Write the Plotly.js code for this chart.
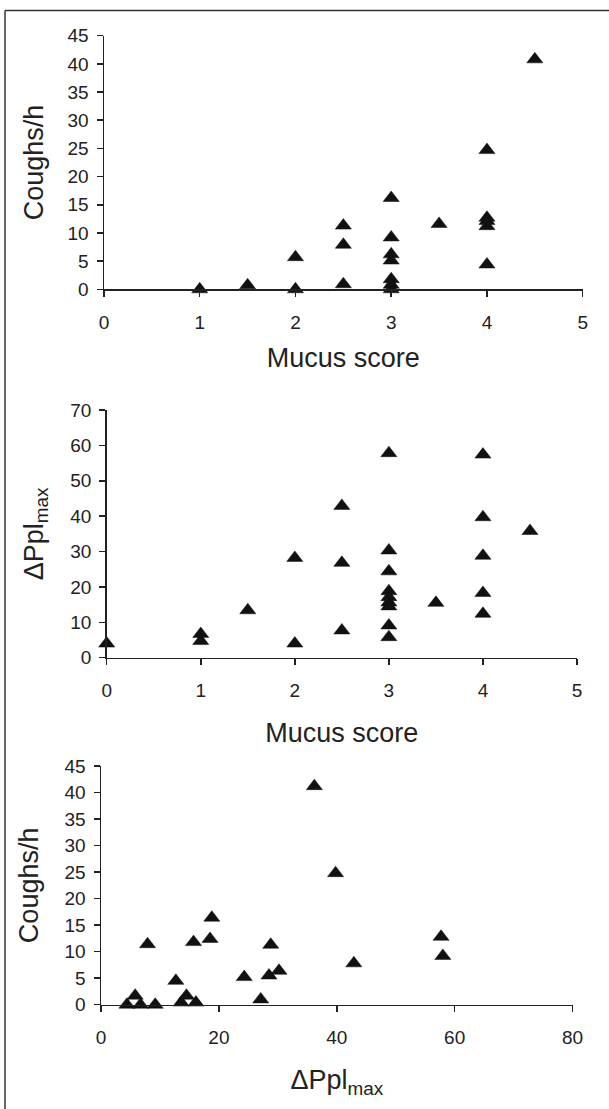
<!DOCTYPE html>
<html>
<head>
<meta charset="utf-8">
<script src="https://cdn.plot.ly/plotly-3.0.1.min.js"></script>
<style>
  html, body { margin: 0; padding: 0; background: #fff; }
  #chart { width: 609px; height: 1109px; }
</style>
</head>
<body>
<div id="chart"></div>
<script>
// Panel A: Mucus score vs Coughs/h
const mucusA  = [1, 1.5, 2, 2, 2.5, 2.5, 2.5, 3, 3, 3, 3, 3, 3, 3, 3.5, 4, 4, 4, 4, 4, 4.5];
const coughsA = [0, 0.7, 5.7, 0, 11.3, 7.9, 0.9, 16.2, 9.2, 6.2, 5.1, 1.8, 0.8, 0, 11.6, 24.7, 12.7, 12.1, 11.2, 4.4, 40.8];

// Panel B: Mucus score vs ΔPplmax
const mucusB = [0, 1, 1, 1.5, 2, 2, 2.5, 2.5, 2.5, 3, 3, 3, 3, 3, 3, 3, 3, 3, 3.5, 4, 4, 4, 4, 4, 4.5];
const pplB   = [4.0, 6.7, 4.7, 13.4, 28.2, 4.0, 42.9, 26.8, 7.7, 57.8, 30.3, 24.4, 18.8, 17.1, 15.6, 14.5, 9.1, 5.8, 15.5, 57.4, 39.7, 28.8, 18.3, 12.4, 35.8];

// Panel C: ΔPplmax vs Coughs/h
const pplC    = [4.4, 5.8, 6.7, 7.9, 9.2, 12.7, 13.6, 14.5, 15.7, 16.1, 18.5, 18.8, 24.3, 27.1, 28.5, 28.8, 30.2, 36.2, 39.8, 42.9, 57.7, 58.0];
const coughsC = [0, 1.7, 0, 11.4, 0, 4.5, 0.4, 1.7, 11.8, 0.4, 12.4, 16.4, 5.2, 1.0, 5.5, 11.3, 6.4, 41.2, 24.8, 7.8, 12.8, 9.2];

// Axis tick values
const ticksMucus  = [0, 1, 2, 3, 4, 5];
const ticksCoughs = [0, 5, 10, 15, 20, 25, 30, 35, 40, 45];
const ticksPpl    = [0, 10, 20, 30, 40, 50, 60, 70];
const ticksPplX   = [0, 20, 40, 60, 80];

const W = 609, H = 1109;
const fx = p => p / W;
const fy = p => 1 - p / H;

const FONT = 'Liberation Sans, Arial, Helvetica, sans-serif';
const marker = { symbol: 'triangle-up', size: 14, color: '#111', line: { color: '#111', width: 0.5 } };

const traces = [
  { x: mucusA, y: coughsA, xaxis: 'x', yaxis: 'y', type: 'scatter', mode: 'markers', marker: marker, cliponaxis: false, hoverinfo: 'x+y' },
  { x: mucusB, y: pplB, xaxis: 'x2', yaxis: 'y2', type: 'scatter', mode: 'markers', marker: marker, cliponaxis: false, hoverinfo: 'x+y' },
  { x: pplC, y: coughsC, xaxis: 'x3', yaxis: 'y3', type: 'scatter', mode: 'markers', marker: marker, cliponaxis: false, hoverinfo: 'x+y' }
];

function xax(domain, anchor, range, tickvals, title, standoff) {
  return {
    domain: domain, anchor: anchor, range: range, tickmode: 'array', tickvals: tickvals,
    showgrid: false, zeroline: false, showline: true, linecolor: '#222', linewidth: 1.5,
    ticks: 'outside', ticklen: 6, tickwidth: 1.5, tickcolor: '#222',
    tickfont: { family: FONT, size: 19, color: '#222' }, ticklabelstandoff: 9,
    title: { text: title, font: { family: FONT, size: 27, color: '#222' }, standoff: standoff },
    fixedrange: true
  };
}
function yax(domain, anchor, range, tickvals, title, standoff) {
  return {
    domain: domain, anchor: anchor, range: range, tickmode: 'array', tickvals: tickvals,
    showgrid: false, zeroline: false, showline: true, linecolor: '#222', linewidth: 1.5,
    ticks: 'outside', ticklen: 6, tickwidth: 1.5, tickcolor: '#222',
    tickfont: { family: FONT, size: 19, color: '#222' }, ticklabelstandoff: 4,
    title: { text: title, font: { family: FONT, size: 27, color: '#222' }, standoff: standoff },
    fixedrange: true
  };
}

const layout = {
  width: W, height: H,
  margin: { l: 0, r: 0, t: 0, b: 0 },
  paper_bgcolor: '#fff', plot_bgcolor: 'rgba(0,0,0,0)',
  showlegend: false,
  xaxis:  xax([fx(104), fx(582.7)], 'y',  [0, 5],  ticksMucus, 'Mucus score', 16),
  yaxis:  yax([fy(289.3), fy(35.7)], 'x', [0, 45], ticksCoughs, 'Coughs/h', 16),
  xaxis2: xax([fx(106.7), fx(577)], 'y2', [0, 5],  ticksMucus, 'Mucus score', 23),
  yaxis2: yax([fy(657.7), fy(410)], 'x2', [0, 70], ticksPpl, 'ΔPpl<sub>max</sub>', 19),
  xaxis3: xax([fx(101), fx(572.5)], 'y3', [0, 80], ticksPplX, 'ΔPpl<sub>max</sub>', 23),
  yaxis3: yax([fy(1004.7), fy(766)], 'x3', [0, 45], ticksCoughs, 'Coughs/h', 18),
  shapes: [
    { type: 'line', xref: 'paper', yref: 'paper', x0: fx(5), x1: fx(5), y0: 0, y1: fy(10.5), line: { color: '#333', width: 1.5 } },
    { type: 'line', xref: 'paper', yref: 'paper', x0: fx(5), x1: 1, y0: fy(10.5), y1: fy(10.5), line: { color: '#333', width: 1.5 } }
  ]
};

Plotly.newPlot('chart', traces, layout, { staticPlot: true, displayModeBar: false });
</script>
</body>
</html>
